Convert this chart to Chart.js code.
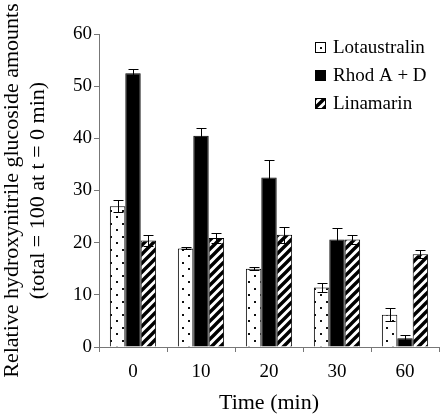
<!DOCTYPE html>
<html>
<head>
<meta charset="utf-8">
<script src="https://cdn.jsdelivr.net/npm/chart.js@4"></script>
<style>
  html, body { margin: 0; padding: 0; background: #fff; }
  #wrap { width: 442px; height: 418px; }
</style>
</head>
<body>
<div id="wrap"><canvas id="chart" width="442" height="418"></canvas></div>
<script>
// data
const times = ["0", "10", "20", "30", "60"];
const lotaustralin = [27.0, 18.9, 15.0, 11.4, 6.2];
const lotaustralinErr = [1.2, 0.2, 0.3, 0.8, 1.3];
const rhod = [52.5, 40.5, 32.5, 20.6, 1.7];
const rhodErr = [0.7, 1.5, 3.3, 2.3, 0.6];
const linamarin = [20.4, 20.9, 21.5, 20.6, 17.8];
const linamarinErr = [1.1, 1.0, 1.5, 0.8, 0.8];
const seriesNames = ["Lotaustralin", "Rhod A + D", "Linamarin"];

const serif = "'Liberation Serif', 'Times New Roman', serif";

function dotPattern() {
  const c = document.createElement("canvas");
  c.width = 12; c.height = 13;
  const g = c.getContext("2d");
  g.fillStyle = "#fff";
  g.fillRect(0, 0, 12, 13);
  g.fillStyle = "#111";
  g.fillRect(2, 2, 2, 2);
  g.fillRect(8, 8, 2, 2);
  return g.createPattern(c, "repeat");
}

function hatchPattern() {
  const c = document.createElement("canvas");
  c.width = 9; c.height = 9;
  const g = c.getContext("2d");
  g.fillStyle = "#fff";
  g.fillRect(0, 0, 9, 9);
  g.strokeStyle = "#000";
  g.lineWidth = 3.4;
  g.beginPath();
  g.moveTo(-2, 2); g.lineTo(2, -2);
  g.moveTo(0, 9); g.lineTo(9, 0);
  g.moveTo(7, 11); g.lineTo(11, 7);
  g.stroke();
  return g.createPattern(c, "repeat");
}

const errors = [lotaustralinErr, rhodErr, linamarinErr];

const errorBars = {
  id: "errorBars",
  afterDatasetsDraw(chart) {
    const ctx = chart.ctx;
    const y = chart.scales.y;
    ctx.save();
    ctx.strokeStyle = "#000";
    ctx.lineWidth = 1;
    chart.data.datasets.forEach((ds, i) => {
      const meta = chart.getDatasetMeta(i);
      meta.data.forEach((bar, j) => {
        const v = ds.data[j];
        const e = errors[i][j];
        const x = Math.round(bar.x) + 0.5;
        const yt = Math.round(y.getPixelForValue(v + e)) + 0.5;
        const yb = Math.round(y.getPixelForValue(v - e)) + 0.5;
        ctx.beginPath();
        ctx.moveTo(x, yt); ctx.lineTo(x, yb);
        ctx.moveTo(x - 5, yt); ctx.lineTo(x + 5, yt);
        ctx.moveTo(x - 5, yb); ctx.lineTo(x + 5, yb);
        ctx.stroke();
      });
    });
    ctx.restore();
  }
};

const boxLegend = {
  id: "boxLegend",
  afterDraw(chart) {
    const ctx = chart.ctx;
    ctx.save();
    ctx.font = "19px " + serif;
    ctx.textBaseline = "middle";
    chart.data.datasets.forEach((ds, i) => {
      const cy = 47 + i * 28;
      ctx.fillStyle = ds.backgroundColor;
      ctx.fillRect(315, cy - 5, 11, 11);
      ctx.strokeStyle = "#000";
      ctx.lineWidth = 1;
      ctx.strokeRect(315.5, cy - 4.5, 10, 10);
      ctx.fillStyle = "#000";
      ctx.fillText(ds.label, 333, cy + 1);
    });
    ctx.restore();
  }
};

new Chart(document.getElementById("chart"), {
  type: "bar",
  data: {
    labels: times,
    datasets: [
      { label: seriesNames[0], data: lotaustralin, backgroundColor: dotPattern(), borderColor: "#000", borderWidth: 1 },
      { label: seriesNames[1], data: rhod, backgroundColor: "#000", borderColor: "#000", borderWidth: 1 },
      { label: seriesNames[2], data: linamarin, backgroundColor: hatchPattern(), borderColor: "#000", borderWidth: 1 }
    ]
  },
  options: {
    responsive: false,
    animation: false,
    devicePixelRatio: 1,
    layout: { padding: { top: 34, right: 3, left: 0, bottom: 0 } },
    datasets: { bar: { categoryPercentage: 0.68, barPercentage: 1.0 } },
    plugins: { legend: { display: false }, tooltip: { enabled: false } },
    scales: {
      x: {
        grid: { display: true, drawOnChartArea: false, drawTicks: true, tickLength: 5, color: "#777", offset: true },
        border: { display: true, color: "#777", width: 1 },
        ticks: { color: "#000", font: { family: serif, size: 19 }, padding: 9, maxRotation: 0 },
        title: { display: true, text: "Time (min)", color: "#000", font: { family: serif, size: 22, lineHeight: 1.15 }, padding: { top: 0, bottom: 2 } },
        afterFit(scale) { scale.height = 71; }
      },
      y: {
        min: 0, max: 60,
        ticks: { stepSize: 10, color: "#000", font: { family: serif, size: 19 }, padding: 2 },
        grid: { display: true, drawOnChartArea: false, drawTicks: true, tickLength: 5, color: "#777" },
        border: { display: true, color: "#777", width: 1 },
        title: {
          display: true,
          text: ["Relative hydroxynitrile glucoside amounts", "(total = 100 at t = 0 min)"],
          color: "#000",
          font: { family: serif, size: 22, lineHeight: 1.15 },
          padding: { top: 0, bottom: 0 }
        },
        afterFit(scale) { scale.width = 99; }
      }
    }
  },
  plugins: [errorBars, boxLegend]
});
</script>
</body>
</html>
